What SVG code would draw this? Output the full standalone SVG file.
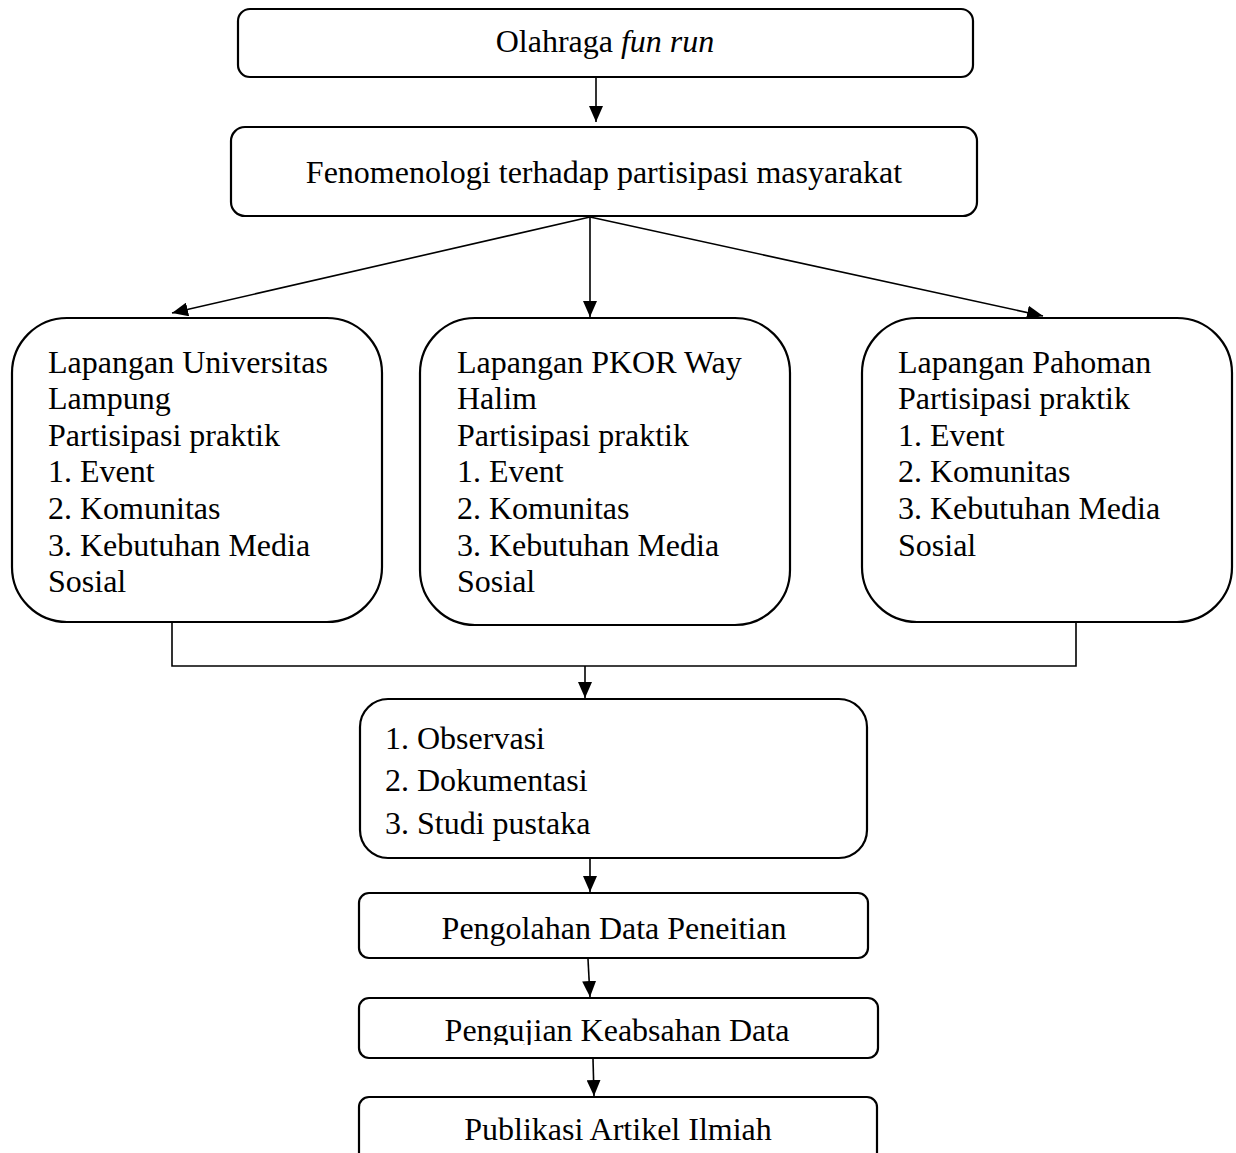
<svg xmlns="http://www.w3.org/2000/svg" width="1236" height="1153" viewBox="0 0 1236 1153">
<style>
.box{fill:#fff;stroke:#000;stroke-width:2.2}
.t{font-family:"Liberation Serif","Times New Roman",serif;font-size:32px;fill:#000}
.c{text-anchor:middle}
.ln{fill:none;stroke:#000;stroke-width:1.6}
</style>
<defs>
<marker id="ah" markerUnits="userSpaceOnUse" markerWidth="16" markerHeight="14" refX="16" refY="7" orient="auto">
<path d="M0,0 L16,7 L0,14 Z" fill="#000"/>
</marker>
<clipPath id="clipF"><rect x="359" y="998" width="519" height="47"/></clipPath>
</defs>
<rect width="1236" height="1153" fill="#fff"/>
<g id="connectors">
<line class="ln" x1="596" y1="78" x2="596" y2="122" marker-end="url(#ah)"/>
<line class="ln" x1="590" y1="217" x2="172" y2="313" marker-end="url(#ah)"/>
<line class="ln" x1="590" y1="217" x2="590" y2="317" marker-end="url(#ah)"/>
<line class="ln" x1="590" y1="217" x2="1043" y2="316" marker-end="url(#ah)"/>
<polyline class="ln" points="172,622 172,666 1076,666 1076,622"/>
<line class="ln" x1="585" y1="666" x2="585" y2="698" marker-end="url(#ah)"/>
<line class="ln" x1="590" y1="859" x2="590" y2="892" marker-end="url(#ah)"/>
<line class="ln" x1="588" y1="959" x2="590" y2="997" marker-end="url(#ah)"/>
<line class="ln" x1="593" y1="1059" x2="594" y2="1096" marker-end="url(#ah)"/>
</g>
<g id="n1">
<rect class="box" x="238" y="9" width="735" height="68" rx="12"/>
<text class="t c" x="605" y="52">Olahraga <tspan font-style="italic">fun run</tspan></text>
</g>
<g id="n2">
<rect class="box" x="231" y="127" width="746" height="89" rx="14"/>
<text class="t c" x="604" y="183">Fenomenologi terhadap partisipasi masyarakat</text>
</g>
<g id="n3">
<rect class="box" x="12" y="318" width="370" height="304" rx="55"/>
<text class="t" x="48" y="373">Lapangan Universitas</text>
<text class="t" x="48" y="409">Lampung</text>
<text class="t" x="48" y="446">Partisipasi praktik</text>
<text class="t" x="48" y="482">1. Event</text>
<text class="t" x="48" y="519">2. Komunitas</text>
<text class="t" x="48" y="556">3. Kebutuhan Media</text>
<text class="t" x="48" y="592">Sosial</text>
</g>
<g id="n4">
<rect class="box" x="420" y="318" width="370" height="307" rx="55"/>
<text class="t" x="457" y="373">Lapangan PKOR Way</text>
<text class="t" x="457" y="409">Halim</text>
<text class="t" x="457" y="446">Partisipasi praktik</text>
<text class="t" x="457" y="482">1. Event</text>
<text class="t" x="457" y="519">2. Komunitas</text>
<text class="t" x="457" y="556">3. Kebutuhan Media</text>
<text class="t" x="457" y="592">Sosial</text>
</g>
<g id="n5">
<rect class="box" x="862" y="318" width="370" height="304" rx="55"/>
<text class="t" x="898" y="373">Lapangan Pahoman</text>
<text class="t" x="898" y="409">Partisipasi praktik</text>
<text class="t" x="898" y="446">1. Event</text>
<text class="t" x="898" y="482">2. Komunitas</text>
<text class="t" x="898" y="519">3. Kebutuhan Media</text>
<text class="t" x="898" y="556">Sosial</text>
</g>
<g id="n6">
<rect class="box" x="360" y="699" width="507" height="159" rx="28"/>
<text class="t" x="385" y="749">1. Observasi</text>
<text class="t" x="385" y="791">2. Dokumentasi</text>
<text class="t" x="385" y="834">3. Studi pustaka</text>
</g>
<g id="n7">
<rect class="box" x="359" y="893" width="509" height="65" rx="10"/>
<text class="t c" x="614" y="939">Pengolahan Data Peneitian</text>
</g>
<g id="n8">
<rect class="box" x="359" y="998" width="519" height="60" rx="10"/>
<text class="t c" x="617" y="1041" clip-path="url(#clipF)">Pengujian Keabsahan Data</text>
</g>
<g id="n9">
<rect class="box" x="359" y="1097" width="518" height="70" rx="10"/>
<text class="t c" x="618" y="1140">Publikasi Artikel Ilmiah</text>
</g>
</svg>
